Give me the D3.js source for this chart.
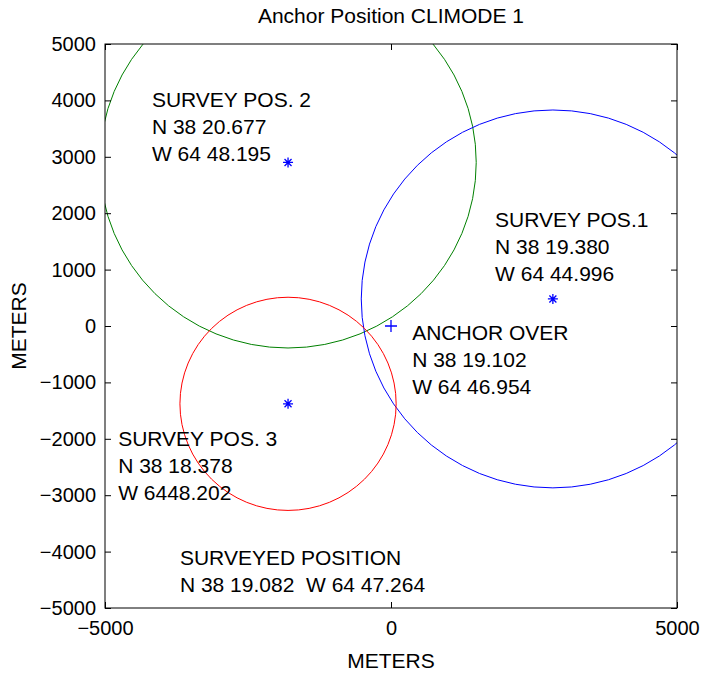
<!DOCTYPE html>
<html><head><meta charset="utf-8">
<script src="https://cdn.jsdelivr.net/npm/d3@7"></script>
<style>
html,body{margin:0;padding:0;background:#fff;}
text{font-family:"Liberation Sans",Arial,sans-serif;fill:#000;}
</style></head>
<body>
<script>
// ---- data ----
const xDomain = [-5000, 5000];
const yDomain = [-5000, 5000];
const xTicks = [-5000, 0, 5000];
const yTicks = [-5000, -4000, -3000, -2000, -1000, 0, 1000, 2000, 3000, 4000, 5000];
const circleNames = ["pos2", "pos1", "pos3"];
const circleX = [-1800, 2830, -1800];
const circleY = [2900, 480, -1380];
const circleR = [3290, 3350, 1890];
const circleColors = ["#008000", "#0000ff", "#ff0000"];
const starX = [-1800, 2830, -1800];
const starY = [2900, 480, -1380];
const anchorX = [0];
const anchorY = [0];
const labelX = [-4180, 1820, 370, -4770, -3690];
const labelY = [4020, 1880, -125, -1990, -4110];
const labelLines = [
  ["SURVEY POS. 2", "N 38 20.677", "W 64 48.195"],
  ["SURVEY POS.1", "N 38 19.380", "W 64 44.996"],
  ["ANCHOR OVER", "N 38 19.102", "W 64 46.954"],
  ["SURVEY POS. 3", "N 38 18.378", "W 6448.202"],
  ["SURVEYED POSITION", "N 38 19.082  W 64 47.264"]
];
const title = "Anchor Position CLIMODE 1";
const xLabel = "METERS";
const yLabel = "METERS";

// ---- layout ----
const W = 702, H = 674;
const m = {left: 105, right: 25, top: 44, bottom: 66};
const fs = 21;
const tfs = 20;
const svg = d3.select("body").append("svg").attr("width", W).attr("height", H)
  .style("display", "block");
svg.append("rect").attr("width", W).attr("height", H).attr("fill", "#fff");

const x = d3.scaleLinear().domain(xDomain).range([m.left, W - m.right]);
const y = d3.scaleLinear().domain(yDomain).range([H - m.bottom, m.top]);

svg.append("defs").append("clipPath").attr("id", "clip")
  .append("rect").attr("x", m.left).attr("y", m.top)
  .attr("width", W - m.right - m.left).attr("height", H - m.bottom - m.top);

// circles
const plot = svg.append("g").attr("clip-path", "url(#clip)");
plot.selectAll("ellipse.c").data(circleNames).join("ellipse")
  .attr("class", "c")
  .attr("cx", (d, i) => x(circleX[i]))
  .attr("cy", (d, i) => y(circleY[i]))
  .attr("rx", (d, i) => x(circleR[i]) - x(0))
  .attr("ry", (d, i) => y(0) - y(circleR[i]))
  .attr("fill", "none")
  .attr("stroke", (d, i) => circleColors[i])
  .attr("stroke-width", 1);

// star markers
const star = plot.selectAll("g.star").data(starX).join("g").attr("class", "star")
  .attr("transform", (d, i) => `translate(${x(starX[i])},${y(starY[i])})`);
const s = 5;
star.append("path")
  .attr("d", `M${-s},0H${s}M0,${-s}V${s}M${-s*0.7},${-s*0.7}L${s*0.7},${s*0.7}M${-s*0.7},${s*0.7}L${s*0.7},${-s*0.7}`)
  .attr("stroke", "#0000ff").attr("stroke-width", 1.3).attr("fill", "none");

// anchor plus
plot.selectAll("path.plus").data(anchorX).join("path").attr("class", "plus")
  .attr("d", (d, i) => { const cx = x(anchorX[i]), cy = y(anchorY[i]); const p = 6;
    return `M${cx - p},${cy}H${cx + p}M${cx},${cy - p}V${cy + p}`; })
  .attr("stroke", "#0000ff").attr("stroke-width", 1.3);

// labels
const lab = svg.selectAll("text.lab").data(labelLines).join("text").attr("class", "lab")
  .attr("x", (d, i) => x(labelX[i]))
  .attr("y", (d, i) => y(labelY[i]))
  .style("font-size", fs + "px");
lab.selectAll("tspan").data(d => d).join("tspan")
  .attr("x", function() { return this.parentNode.getAttribute("x"); })
  .attr("dy", (d, j) => j === 0 ? "0.35em" : "27px")
  .attr("xml:space", "preserve")
  .style("white-space", "pre")
  .text(d => d);

// axes box
const x0 = m.left, x1 = W - m.right, y0 = m.top, y1 = H - m.bottom;
svg.append("rect").attr("x", x0).attr("y", y0).attr("width", x1 - x0).attr("height", y1 - y0)
  .attr("fill", "none").attr("stroke", "#000").attr("stroke-width", 1);

const tl = 6;
const xAxisB = d3.axisBottom(x).tickValues(xTicks).tickSizeInner(-tl).tickSizeOuter(0).tickPadding(7 + tl).tickFormat(d3.format("d"));
const gx = svg.append("g").attr("transform", `translate(0,${y1})`).call(xAxisB);
const xAxisT = d3.axisTop(x).tickValues(xTicks).tickSizeInner(-tl).tickSizeOuter(0).tickFormat("");
const gxt = svg.append("g").attr("transform", `translate(0,${y0})`).call(xAxisT);
const yAxisL = d3.axisLeft(y).tickValues(yTicks).tickSizeInner(-tl).tickSizeOuter(0).tickPadding(3 + tl).tickFormat(d3.format("d"));
const gy = svg.append("g").attr("transform", `translate(${x0},0)`).call(yAxisL);
const yAxisR = d3.axisRight(y).tickValues(yTicks).tickSizeInner(-tl).tickSizeOuter(0).tickFormat("");
const gyr = svg.append("g").attr("transform", `translate(${x1},0)`).call(yAxisR);
[gx, gxt, gy, gyr].forEach(g => {
  g.select(".domain").remove();
  g.selectAll("line").attr("stroke", "#000");
  g.selectAll("text").attr("font-family", null).attr("font-size", null).style("font-size", tfs + "px").attr("fill", "#000");
});

// title and axis labels
svg.append("text").attr("x", (x0 + x1) / 2).attr("y", 23).attr("text-anchor", "middle")
  .style("font-size", "21px").text(title);
svg.append("text").attr("x", (x0 + x1) / 2).attr("y", 668).attr("text-anchor", "middle")
  .style("font-size", fs + "px").text(xLabel);
svg.append("text").attr("transform", `translate(26,${(y0 + y1) / 2}) rotate(-90)`).attr("text-anchor", "middle")
  .style("font-size", fs + "px").text(yLabel);
</script>
</body></html>
